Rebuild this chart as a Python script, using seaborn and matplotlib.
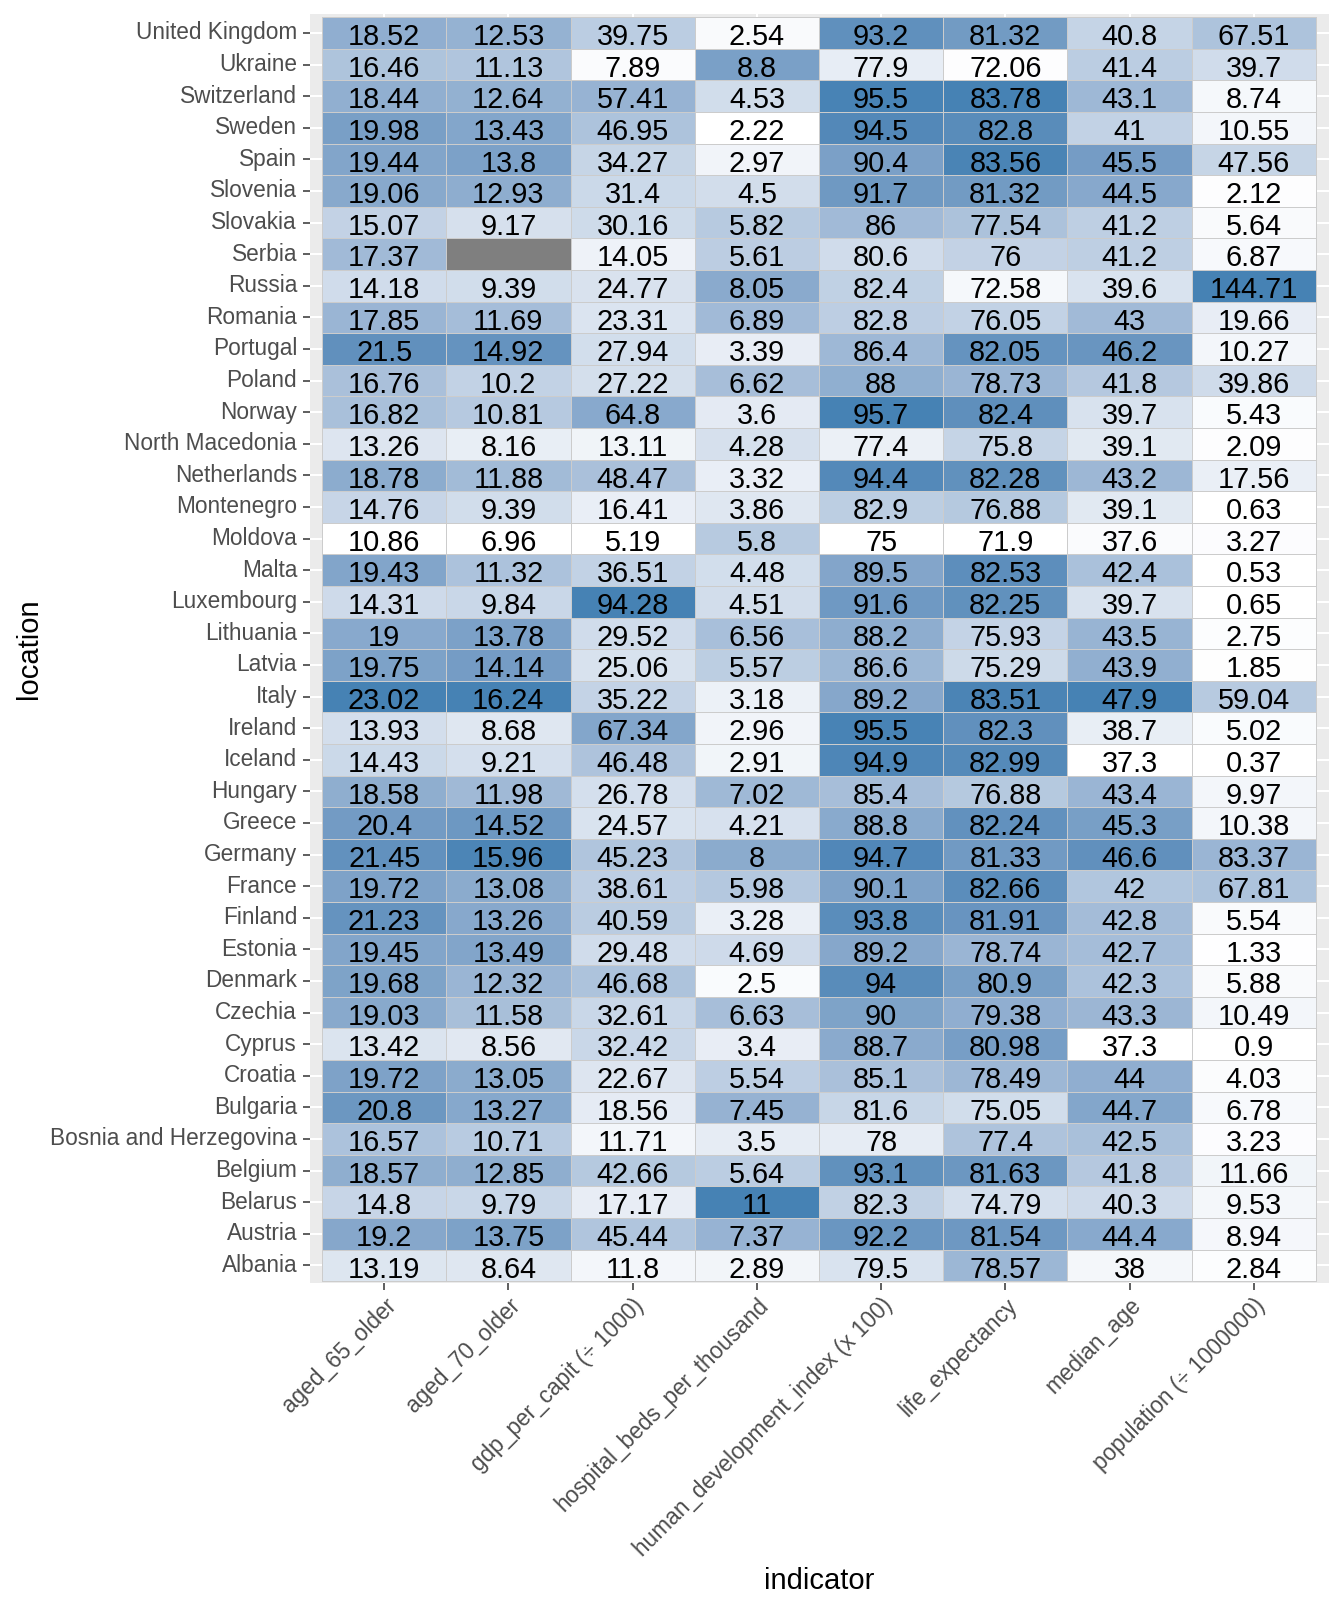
import numpy as np
import pandas as pd
import matplotlib
matplotlib.use("Agg")
import matplotlib.pyplot as plt
import matplotlib.transforms as mtransforms
import seaborn as sns
from matplotlib.colors import ListedColormap, to_rgb

# ---------------- data ----------------
locations = ["United Kingdom", "Ukraine", "Switzerland", "Sweden", "Spain", "Slovenia",
             "Slovakia", "Serbia", "Russia", "Romania", "Portugal", "Poland", "Norway",
             "North Macedonia", "Netherlands", "Montenegro", "Moldova", "Malta",
             "Luxembourg", "Lithuania", "Latvia", "Italy", "Ireland", "Iceland",
             "Hungary", "Greece", "Germany", "France", "Finland", "Estonia", "Denmark",
             "Czechia", "Cyprus", "Croatia", "Bulgaria", "Bosnia and Herzegovina",
             "Belgium", "Belarus", "Austria", "Albania"]

indicators = ["aged_65_older", "aged_70_older", "gdp_per_capit (\u00f7 1000)",
              "hospital_beds_per_thousand", "human_development_index (x 100)",
              "life_expectancy", "median_age", "population (\u00f7 1000000)"]

aged_65_older = [18.52, 16.46, 18.44, 19.98, 19.44, 19.06, 15.07, 17.37, 14.18, 17.85,
                 21.5, 16.76, 16.82, 13.26, 18.78, 14.76, 10.86, 19.43, 14.31, 19,
                 19.75, 23.02, 13.93, 14.43, 18.58, 20.4, 21.45, 19.72, 21.23, 19.45,
                 19.68, 19.03, 13.42, 19.72, 20.8, 16.57, 18.57, 14.8, 19.2, 13.19]
aged_70_older = [12.53, 11.13, 12.64, 13.43, 13.8, 12.93, 9.17, np.nan, 9.39, 11.69,
                 14.92, 10.2, 10.81, 8.16, 11.88, 9.39, 6.96, 11.32, 9.84, 13.78,
                 14.14, 16.24, 8.68, 9.21, 11.98, 14.52, 15.96, 13.08, 13.26, 13.49,
                 12.32, 11.58, 8.56, 13.05, 13.27, 10.71, 12.85, 9.79, 13.75, 8.64]
gdp_per_capita = [39.75, 7.89, 57.41, 46.95, 34.27, 31.4, 30.16, 14.05, 24.77, 23.31,
                  27.94, 27.22, 64.8, 13.11, 48.47, 16.41, 5.19, 36.51, 94.28, 29.52,
                  25.06, 35.22, 67.34, 46.48, 26.78, 24.57, 45.23, 38.61, 40.59, 29.48,
                  46.68, 32.61, 32.42, 22.67, 18.56, 11.71, 42.66, 17.17, 45.44, 11.8]
hospital_beds = [2.54, 8.8, 4.53, 2.22, 2.97, 4.5, 5.82, 5.61, 8.05, 6.89,
                 3.39, 6.62, 3.6, 4.28, 3.32, 3.86, 5.8, 4.48, 4.51, 6.56,
                 5.57, 3.18, 2.96, 2.91, 7.02, 4.21, 8, 5.98, 3.28, 4.69,
                 2.5, 6.63, 3.4, 5.54, 7.45, 3.5, 5.64, 11, 7.37, 2.89]
human_dev_index = [93.2, 77.9, 95.5, 94.5, 90.4, 91.7, 86, 80.6, 82.4, 82.8,
                   86.4, 88, 95.7, 77.4, 94.4, 82.9, 75, 89.5, 91.6, 88.2,
                   86.6, 89.2, 95.5, 94.9, 85.4, 88.8, 94.7, 90.1, 93.8, 89.2,
                   94, 90, 88.7, 85.1, 81.6, 78, 93.1, 82.3, 92.2, 79.5]
life_expectancy = [81.32, 72.06, 83.78, 82.8, 83.56, 81.32, 77.54, 76, 72.58, 76.05,
                   82.05, 78.73, 82.4, 75.8, 82.28, 76.88, 71.9, 82.53, 82.25, 75.93,
                   75.29, 83.51, 82.3, 82.99, 76.88, 82.24, 81.33, 82.66, 81.91, 78.74,
                   80.9, 79.38, 80.98, 78.49, 75.05, 77.4, 81.63, 74.79, 81.54, 78.57]
median_age = [40.8, 41.4, 43.1, 41, 45.5, 44.5, 41.2, 41.2, 39.6, 43,
              46.2, 41.8, 39.7, 39.1, 43.2, 39.1, 37.6, 42.4, 39.7, 43.5,
              43.9, 47.9, 38.7, 37.3, 43.4, 45.3, 46.6, 42, 42.8, 42.7,
              42.3, 43.3, 37.3, 44, 44.7, 42.5, 41.8, 40.3, 44.4, 38]
population = [67.51, 39.7, 8.74, 10.55, 47.56, 2.12, 5.64, 6.87, 144.71, 19.66,
              10.27, 39.86, 5.43, 2.09, 17.56, 0.63, 3.27, 0.53, 0.65, 2.75,
              1.85, 59.04, 5.02, 0.37, 9.97, 10.38, 83.37, 67.81, 5.54, 1.33,
              5.88, 10.49, 0.9, 4.03, 6.78, 3.23, 11.66, 9.53, 8.94, 2.84]

values = pd.DataFrame(
    dict(zip(indicators, [aged_65_older, aged_70_older, gdp_per_capita, hospital_beds,
                          human_dev_index, life_expectancy, median_age, population])),
    index=locations)

# per-indicator min-max scaling for the fill
scaled = (values - values.min()) / (values.max() - values.min())


# ---------------- colour ramp (white -> steelblue in CIELAB, like ggplot) -------------
_M = np.array([[0.4124, 0.3576, 0.1805], [0.2126, 0.7152, 0.0722], [0.0193, 0.1192, 0.9505]])
_WHITE = np.array([0.95047, 1.0, 1.08883])


def _srgb_to_lab(rgb):
    c = np.asarray(rgb, float)
    lin = np.where(c <= 0.04045, c / 12.92, ((c + 0.055) / 1.055) ** 2.4)
    xyz = _M @ lin / _WHITE
    d = 6 / 29
    f = np.where(xyz > d ** 3, np.cbrt(xyz), xyz / (3 * d * d) + 4 / 29)
    return np.array([116 * f[1] - 16, 500 * (f[0] - f[1]), 200 * (f[1] - f[2])])


def _lab_to_srgb(lab):
    L, a, b = lab
    fy = (L + 16) / 116
    f = np.array([fy + a / 500, fy, fy - b / 200])
    d = 6 / 29
    xyz = np.where(f > d, f ** 3, 3 * d * d * (f - 4 / 29)) * _WHITE
    lin = np.clip(np.linalg.inv(_M) @ xyz, 0, 1)
    c = np.where(lin <= 0.0031308, 12.92 * lin, 1.055 * lin ** (1 / 2.4) - 0.055)
    return np.clip(c, 0, 1)


lab_lo = _srgb_to_lab(to_rgb("white"))
lab_hi = _srgb_to_lab(to_rgb("steelblue"))
ramp = [_lab_to_srgb(lab_lo + t * (lab_hi - lab_lo)) for t in np.linspace(0, 1, 256)]
cmap = ListedColormap(ramp)
cmap.set_bad("#7f7f7f")

# ---------------- plot ----------------
sns.set_theme(style="white")
plt.rcParams["font.family"] = ["Liberation Sans", "DejaVu Sans"]

W, H = 1344, 1612
fig = plt.figure(figsize=(W / 100, H / 100), dpi=100)
left, right, top, bottom = 310, 1329, 14, 1283
ax = fig.add_axes([left / W, 1 - bottom / H, (right - left) / W, (bottom - top) / H])
ax.set_facecolor("#ebebeb")

sns.heatmap(scaled, annot=values, fmt="g", cmap=cmap, vmin=0, vmax=1, cbar=False,
            linewidths=0.7, linecolor="#cccccc",
            annot_kws={"color": "black", "fontsize": 20.8, "va": "baseline"},
            xticklabels=True, yticklabels=True, ax=ax)

ax.set_xlim(-0.097, len(indicators) + 0.105)
ax.set_ylim(len(locations) + 0.06, -0.1)

# white grid lines behind tiles (visible in the panel margins)
ax.set_axisbelow(True)
ax.grid(True, color="white", linewidth=1.5)
for coll in ax.collections:
    coll.set_zorder(2)
# cell labels: baseline ~12px below the cell centre (digits sit slightly low, as in ggplot)
shift = mtransforms.ScaledTranslation(0, -0.122, fig.dpi_scale_trans)
for t in ax.texts:
    t.set_zorder(3)
    t.set_transform(t.get_transform() + shift)

for s in ax.spines.values():
    s.set_visible(False)

ax.tick_params(axis="both", which="both", bottom=True, left=True, length=4.8, width=1.1,
               color="#333333", labelcolor="#4d4d4d", labelsize=16.3, pad=4.5)
ax.tick_params(axis="x", pad=3)
plt.setp(ax.get_yticklabels(), rotation=0)
plt.setp(ax.get_xticklabels(), rotation=45, ha="right", va="top", rotation_mode="anchor")

ax.set_xlabel("indicator", fontsize=21, color="black")
ax.set_ylabel("location", fontsize=21, color="black")
ax.xaxis.set_label_coords(0.5, -0.224)
ax.yaxis.set_label_coords(-0.262, 0.5)

fig.savefig("out.png", dpi=100)
